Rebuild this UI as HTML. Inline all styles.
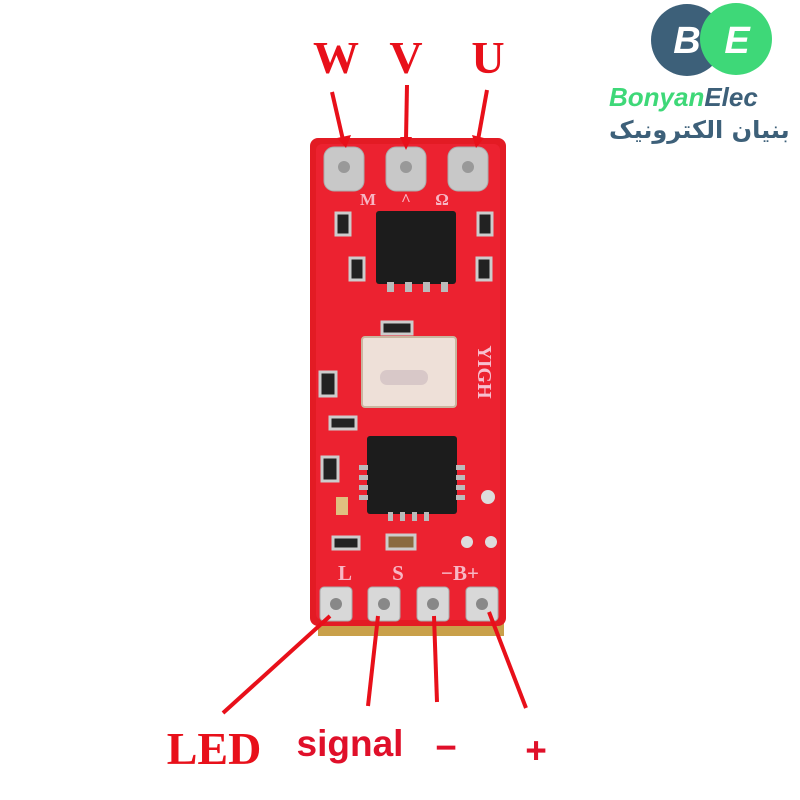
<!DOCTYPE html>
<html><head><style>body{margin:0;background:#fff}svg{display:block}</style></head><body>
<svg width="800" height="800" viewBox="0 0 800 800" xmlns="http://www.w3.org/2000/svg">
<rect width="800" height="800" fill="#fff"/>
<!-- logo -->
<circle cx="687" cy="40" r="36" fill="#3d6079"/>
<circle cx="736" cy="39" r="36" fill="#3ed878"/>
<text x="687" y="53" font-family="Liberation Sans" font-weight="bold" font-style="italic" font-size="38" fill="#fff" text-anchor="middle">B</text>
<text x="737" y="53" font-family="Liberation Sans" font-weight="bold" font-style="italic" font-size="38" fill="#fff" text-anchor="middle">E</text>
<text x="609" y="106" font-family="Liberation Sans" font-weight="bold" font-style="italic" font-size="26" fill="#3ed878">Bonyan<tspan fill="#3d6079">Elec</tspan></text>
<text x="609" y="138" font-family="DejaVu Sans" font-weight="bold" font-size="24" fill="#3d6079">بنیان الکترونیک</text>
<!-- board -->
<rect x="318" y="612" width="186" height="24" fill="#c9a04a"/>
<rect x="310" y="138" width="196" height="488" rx="8" fill="#e31b24"/>
<rect x="316" y="144" width="184" height="476" rx="6" fill="#ec2230"/>
<!-- top pads -->
<g fill="#c8c8c8" stroke="#aaa">
<rect x="324" y="147" width="40" height="44" rx="10"/>
<rect x="386" y="147" width="40" height="44" rx="10"/>
<rect x="448" y="147" width="40" height="44" rx="10"/>
</g>
<g fill="#999"><circle cx="344" cy="167" r="6"/><circle cx="406" cy="167" r="6"/><circle cx="468" cy="167" r="6"/></g>
<g font-family="Liberation Serif" font-weight="bold" font-size="17" fill="#f7b6c4" text-anchor="middle">
<text x="368" y="205">M</text><text x="406" y="205">^</text><text x="442" y="205">Ω</text></g>
<!-- top chip -->
<rect x="376" y="211" width="80" height="73" rx="3" fill="#1c1c1c"/>
<g fill="#bbb"><rect x="387" y="282" width="7" height="10"/><rect x="405" y="282" width="7" height="10"/><rect x="423" y="282" width="7" height="10"/><rect x="441" y="282" width="7" height="10"/></g>
<!-- small components -->
<g fill="#222" stroke="#ccc" stroke-width="3">
<rect x="336" y="213" width="14" height="22"/><rect x="478" y="213" width="14" height="22"/>
<rect x="350" y="258" width="14" height="22"/><rect x="477" y="258" width="14" height="22"/>
<rect x="320" y="372" width="16" height="24"/><rect x="330" y="417" width="26" height="12"/>
<rect x="322" y="457" width="16" height="24"/><rect x="333" y="537" width="26" height="12"/>
<rect x="382" y="322" width="30" height="12"/>
</g>
<rect x="336" y="497" width="12" height="18" fill="#e0c080"/>
<rect x="387" y="535" width="28" height="14" fill="#8a6a40" stroke="#ccc" stroke-width="3"/>
<!-- LED -->
<rect x="362" y="337" width="94" height="70" rx="3" fill="#eee0d8" stroke="#c9b6a0" stroke-width="2"/>
<rect x="380" y="370" width="48" height="15" rx="7" fill="#d8c8c8"/>
<text x="478" y="372" font-family="Liberation Serif" font-weight="bold" font-size="20" fill="#f7c0d0" text-anchor="middle" transform="rotate(90 478 372)">YIGH</text>
<!-- bottom chip -->
<rect x="367" y="436" width="90" height="78" rx="3" fill="#1c1c1c"/>
<g fill="#bbb"><rect x="359" y="465" width="9" height="5"/><rect x="359" y="475" width="9" height="5"/><rect x="359" y="485" width="9" height="5"/><rect x="359" y="495" width="9" height="5"/>
<rect x="456" y="465" width="9" height="5"/><rect x="456" y="475" width="9" height="5"/><rect x="456" y="485" width="9" height="5"/><rect x="456" y="495" width="9" height="5"/>
<rect x="388" y="512" width="5" height="9"/><rect x="400" y="512" width="5" height="9"/><rect x="412" y="512" width="5" height="9"/><rect x="424" y="512" width="5" height="9"/></g>
<circle cx="488" cy="497" r="7" fill="#ddd"/><circle cx="467" cy="542" r="6" fill="#ddd"/><circle cx="491" cy="542" r="6" fill="#ddd"/>
<!-- bottom labels on board -->
<g font-family="Liberation Serif" font-weight="bold" font-size="21" fill="#f7b6c4" text-anchor="middle">
<text x="345" y="580">L</text><text x="398" y="580">S</text><text x="460" y="580">−B+</text></g>
<g fill="#d8d8d8" stroke="#aaa">
<rect x="320" y="587" width="32" height="34" rx="4"/><rect x="368" y="587" width="32" height="34" rx="4"/>
<rect x="417" y="587" width="32" height="34" rx="4"/><rect x="466" y="587" width="32" height="34" rx="4"/></g>
<g fill="#888"><circle cx="336" cy="604" r="6"/><circle cx="384" cy="604" r="6"/><circle cx="433" cy="604" r="6"/><circle cx="482" cy="604" r="6"/></g>
<!-- arrows -->
<g stroke="#e8101a" stroke-width="4" fill="none">
<line x1="332" y1="92" x2="343" y2="140"/><line x1="407" y1="85" x2="406" y2="140"/><line x1="487" y1="90" x2="478" y2="140"/>
<line x1="223" y1="713" x2="330" y2="616"/><line x1="368" y1="706" x2="378" y2="616"/>
<line x1="437" y1="702" x2="434" y2="616"/><line x1="526" y1="708" x2="489" y2="612"/></g>
<g fill="#e8101a"><polygon points="337,138 351,135 346,148"/><polygon points="400,137 412,137 406,150"/><polygon points="472,135 484,138 476,148"/></g>
<!-- labels -->
<g font-family="Liberation Serif" font-weight="bold" font-size="46" fill="#e8101a" text-anchor="middle">
<text x="336" y="73">W</text><text x="406" y="73">V</text><text x="488" y="73">U</text>
<text x="214" y="764">LED</text></g>
<g font-family="Liberation Sans" font-weight="bold" font-size="37" fill="#e0102a" text-anchor="middle">
<text x="350" y="756">signal</text><text x="446" y="760">−</text><text x="536" y="763">+</text></g>
</svg>
</body></html>
